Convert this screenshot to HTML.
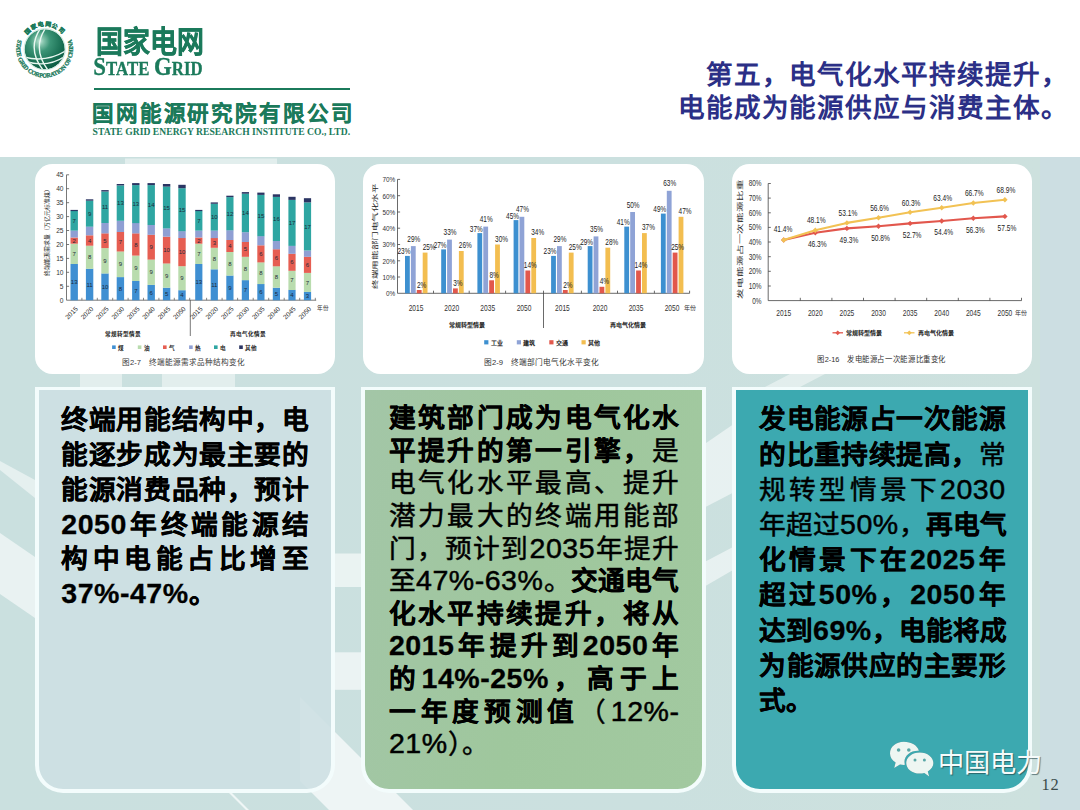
<!DOCTYPE html>
<html lang="zh-CN">
<head>
<meta charset="utf-8">
<title>第五，电气化水平持续提升</title>
<style>
html,body{margin:0;padding:0;}
body{width:1080px;height:810px;overflow:hidden;position:relative;background:#cbe0df;font-family:"Liberation Sans",sans-serif;}
.abs{position:absolute;}
#hdr{left:0;top:0;width:1080px;height:157px;background:#fff;}
#bg{left:0;top:157px;width:1080px;height:653px;background:linear-gradient(90deg,#cae0df 0%,#cbe0df 60%,#cde1de 96.25%,#ccdee2 96.35%,#ccdee2 100%);}
.cp{background:#fff;border-radius:17.5px;top:164.2px;height:209.6px;}
.tp{top:387px;height:406px;box-sizing:border-box;border:4px solid #f3fcfc;border-top-width:3.5px;border-radius:0 0 28px 28px;}
.tx{font-weight:bold;color:#000;white-space:nowrap;-webkit-text-stroke:0.3px #000;}
.tx div{text-align:justify;text-align-last:justify;text-justify:inter-character;}
.tx div.l{text-align:left;text-align-last:left;}
.tx .d{font-size:1.07em;letter-spacing:0.5px;line-height:0;}
.tx .n{font-weight:normal;-webkit-text-stroke:0.5px #000;color:#000;}
#title{right:11.5px;top:59.2px;width:420px;text-align:right;font-size:26.6px;letter-spacing:0.9px;line-height:33px;font-weight:bold;color:#2b2f86;white-space:nowrap;}
.g{color:#1b7a5b;}
</style>
</head>
<body>
<div id="hdr" class="abs"></div>
<div id="bg" class="abs"></div>

<svg class="abs" style="left:0;top:0" width="1080" height="810" viewBox="0 0 1080 810">
<g fill="#ffffff">
<polygon points="0,461 35,480 35,498 0,470" opacity="0.5"/>
<polygon points="0,533 35,557 35,618 0,594" opacity="0.58"/>
<rect x="335" y="553.5" width="27" height="33.5" opacity="0.6"/>
<rect x="335" y="652.3" width="27" height="37.5" opacity="0.62"/>
<polygon points="300,697 420,817 336,817 300,781" opacity="0.68"/>
<polygon points="705,443.7 733,424.6 733,492.8 705,507.3" opacity="0.55"/>
<polygon points="705,561.7 733,547.1 733,570.1 705,586.2" opacity="0.55"/>
<polygon points="226,790 229,790 251,812 248,812" opacity="0.7"/>
<rect x="125" y="158.5" width="152" height="5.6" opacity="0.45"/>
<rect x="80" y="374" width="42" height="13" opacity="0.45"/>
<rect x="162" y="374" width="73" height="13" opacity="0.45"/>
<polygon points="765,387 790,374 825,374 800,387" opacity="0.45"/>
</g>
</svg>

<svg class="abs" style="left:10px;top:10px" width="80" height="80" viewBox="10 10 80 80" font-family="Liberation Serif, serif">
<defs>
<radialGradient id="gl" cx="0.38" cy="0.3" r="0.8"><stop offset="0" stop-color="#c2e5d8"/><stop offset="0.12" stop-color="#86c5ad"/><stop offset="0.32" stop-color="#3c9577"/><stop offset="0.75" stop-color="#14694e"/><stop offset="1" stop-color="#0a5640"/></radialGradient>
<clipPath id="gc"><circle cx="44.7" cy="49.2" r="20"/></clipPath>
<path id="ringb" d="M 18.1 39.5 A 28.3 28.3 0 1 0 71.3 39.5"/>
<path id="ringt" d="M 26.9 34.8 A 22.9 22.9 0 0 1 62.5 34.8"/>
</defs>
<circle cx="44.7" cy="49.2" r="20" fill="url(#gl)"/>
<circle cx="44.7" cy="49.2" r="20.6" fill="none" stroke="#bfe3d6" stroke-width="0.8"/>
<g clip-path="url(#gc)" fill="none" stroke="#e9f7f1" stroke-linecap="round">
<path d="M24 57 Q 46 63 65.5 51" stroke-width="1.4"/>
<path d="M25.5 61.5 Q 48 68 64.5 56.5" stroke-width="1.4"/>
<path d="M40 29 Q 27 49 43 70" stroke-width="1.4"/>
<path d="M45 29 Q 32.5 49 47.5 69.5" stroke-width="1.4"/>
</g>
<text font-size="6.1" font-weight="bold" fill="#1b7a5b" stroke="#1b7a5b" stroke-width="0.3"><textPath href="#ringb" startOffset="0" textLength="108.5" lengthAdjust="spacing">STATE GRID CORPORATION OF CHINA</textPath></text>
<text font-size="6" font-weight="bold" fill="#1b7a5b" stroke="#1b7a5b" stroke-width="0.25" font-family="Liberation Sans, sans-serif"><textPath href="#ringt" startOffset="0" textLength="39.8" lengthAdjust="spacing">国家电网公司</textPath></text>
</svg>
<div class="abs g" style="left:95.9px;top:20.6px;font-size:26.9px;line-height:38px;font-weight:bold;white-space:nowrap;-webkit-text-stroke:0.45px #1b7a5b;transform:scale(1,1.11);transform-origin:0 0;">国家电网</div>
<div class="abs g" style="left:93.2px;top:52.8px;font-family:'Liberation Serif',serif;font-weight:bold;font-size:16.8px;line-height:24px;white-space:nowrap;letter-spacing:0.1px;-webkit-text-stroke:0.3px #1b7a5b;transform:scale(1,1.14);transform-origin:0 0;"><span style="font-size:22.8px">S</span>TATE <span style="font-size:22.8px">G</span>RID</div>
<div class="abs" style="left:93.5px;top:88px;width:256.5px;height:1.6px;background:#1b7a5b;"></div>
<div class="abs g" style="left:92px;top:98.4px;font-size:21.5px;line-height:32px;font-weight:bold;white-space:nowrap;letter-spacing:1.86px;-webkit-text-stroke:0.25px #1b7a5b;">国网能源研究院有限公司</div>
<div class="abs g" style="left:92.6px;top:126.2px;font-family:'Liberation Serif',serif;font-weight:bold;font-size:9.6px;line-height:12px;white-space:nowrap;letter-spacing:0.03px;">STATE GRID ENERGY RESEARCH INSTITUTE CO., LTD.</div>

<div class="abs cp" style="left:35.3px;width:300px;"></div>
<div class="abs cp" style="left:363.3px;width:340.8px;"></div>
<div class="abs cp" style="left:731.9px;width:299.7px;"></div>
<svg class="abs" style="left:0;top:0" width="1080" height="810" viewBox="0 0 1080 810" font-family="Liberation Sans, sans-serif">
<g id="chart1"><g stroke="#555" stroke-width="0.8" fill="none">
<path d="M66.5 174.8 V300.2 H316.2"/>
<path d="M66.5 286.3 h2.6"/>
<path d="M66.5 272.3 h2.6"/>
<path d="M66.5 258.4 h2.6"/>
<path d="M66.5 244.5 h2.6"/>
<path d="M66.5 230.5 h2.6"/>
<path d="M66.5 216.6 h2.6"/>
<path d="M66.5 202.7 h2.6"/>
<path d="M66.5 188.7 h2.6"/>
<path d="M66.5 174.8 h2.6"/>
<path d="M190.3 300 V336"/>
</g>
<g font-size="6.6" fill="#333" text-anchor="end">
<text x="63.5" y="302.5">0</text>
<text x="63.5" y="288.6">5</text>
<text x="63.5" y="274.6">10</text>
<text x="63.5" y="260.7">15</text>
<text x="63.5" y="246.8">20</text>
<text x="63.5" y="232.8">25</text>
<text x="63.5" y="218.9">30</text>
<text x="63.5" y="205">35</text>
<text x="63.5" y="191">40</text>
<text x="63.5" y="177.1">45</text>
</g>
<rect x="70.5" y="264" width="7.4" height="36.3" fill="#3f8fd2"/>
<text x="74.2" y="284.2" font-size="6" fill="#1d2a3a" text-anchor="middle">13</text>
<rect x="70.5" y="243.6" width="7.4" height="20.4" fill="#b9dcae"/>
<text x="74.2" y="255.9" font-size="6" fill="#1d2a3a" text-anchor="middle">7</text>
<rect x="70.5" y="237.5" width="7.4" height="6.2" fill="#e65e52"/>
<text x="74.2" y="242.7" font-size="6" fill="#1d2a3a" text-anchor="middle">2</text>
<rect x="70.5" y="230.5" width="7.4" height="7" fill="#8f9fd3"/>
<rect x="70.5" y="211" width="7.4" height="19.6" fill="#2ea6a2"/>
<text x="74.2" y="222.9" font-size="6" fill="#1d2a3a" text-anchor="middle">7</text>
<rect x="70.5" y="209.9" width="7.4" height="1.2" fill="#2b3563"/>
<path d="M81.9 300.2 v-2.4" stroke="#555" stroke-width="0.7"/>
<text transform="translate(78.4 309.4) rotate(-45)" font-size="6.6" fill="#333" text-anchor="end">2015</text>
<rect x="85.9" y="268.7" width="7.4" height="31.5" fill="#3f8fd2"/>
<text x="89.6" y="286.6" font-size="6" fill="#1d2a3a" text-anchor="middle">11</text>
<rect x="85.9" y="245.6" width="7.4" height="23.2" fill="#b9dcae"/>
<text x="89.6" y="259.2" font-size="6" fill="#1d2a3a" text-anchor="middle">8</text>
<rect x="85.9" y="235.3" width="7.4" height="10.4" fill="#e65e52"/>
<text x="89.6" y="242.5" font-size="6" fill="#1d2a3a" text-anchor="middle">4</text>
<rect x="85.9" y="226.6" width="7.4" height="8.7" fill="#8f9fd3"/>
<rect x="85.9" y="200.7" width="7.4" height="26" fill="#2ea6a2"/>
<text x="89.6" y="215.8" font-size="6" fill="#1d2a3a" text-anchor="middle">9</text>
<rect x="85.9" y="199.3" width="7.4" height="1.4" fill="#2b3563"/>
<path d="M97.3 300.2 v-2.4" stroke="#555" stroke-width="0.7"/>
<text transform="translate(93.8 309.4) rotate(-45)" font-size="6.6" fill="#333" text-anchor="end">2020</text>
<rect x="101.3" y="273.4" width="7.4" height="26.8" fill="#3f8fd2"/>
<text x="105" y="288.9" font-size="6" fill="#1d2a3a" text-anchor="middle">10</text>
<rect x="101.3" y="248.1" width="7.4" height="25.4" fill="#b9dcae"/>
<text x="105" y="262.9" font-size="6" fill="#1d2a3a" text-anchor="middle">9</text>
<rect x="101.3" y="233.3" width="7.4" height="14.8" fill="#e65e52"/>
<text x="105" y="242.8" font-size="6" fill="#1d2a3a" text-anchor="middle">5</text>
<rect x="101.3" y="223" width="7.4" height="10.4" fill="#8f9fd3"/>
<rect x="101.3" y="191.5" width="7.4" height="31.5" fill="#2ea6a2"/>
<text x="105" y="209.4" font-size="6" fill="#1d2a3a" text-anchor="middle">11</text>
<rect x="101.3" y="190.1" width="7.4" height="1.4" fill="#2b3563"/>
<path d="M112.7 300.2 v-2.4" stroke="#555" stroke-width="0.7"/>
<text transform="translate(109.2 309.4) rotate(-45)" font-size="6.6" fill="#333" text-anchor="end">2025</text>
<rect x="116.7" y="277.1" width="7.4" height="23.2" fill="#3f8fd2"/>
<text x="120.4" y="290.7" font-size="6" fill="#1d2a3a" text-anchor="middle">8</text>
<rect x="116.7" y="251.4" width="7.4" height="25.7" fill="#b9dcae"/>
<text x="120.4" y="266.3" font-size="6" fill="#1d2a3a" text-anchor="middle">9</text>
<rect x="116.7" y="231.9" width="7.4" height="19.6" fill="#e65e52"/>
<text x="120.4" y="243.8" font-size="6" fill="#1d2a3a" text-anchor="middle">7</text>
<rect x="116.7" y="220.8" width="7.4" height="11.2" fill="#8f9fd3"/>
<rect x="116.7" y="185.4" width="7.4" height="35.4" fill="#2ea6a2"/>
<text x="120.4" y="205.2" font-size="6" fill="#1d2a3a" text-anchor="middle">13</text>
<rect x="116.7" y="184" width="7.4" height="1.4" fill="#2b3563"/>
<path d="M128.1 300.2 v-2.4" stroke="#555" stroke-width="0.7"/>
<text transform="translate(124.6 309.4) rotate(-45)" font-size="6.6" fill="#333" text-anchor="end">2030</text>
<rect x="132.1" y="281" width="7.4" height="19.3" fill="#3f8fd2"/>
<text x="135.8" y="292.7" font-size="6" fill="#1d2a3a" text-anchor="middle">7</text>
<rect x="132.1" y="255.6" width="7.4" height="25.4" fill="#b9dcae"/>
<text x="135.8" y="270.4" font-size="6" fill="#1d2a3a" text-anchor="middle">9</text>
<rect x="132.1" y="233.3" width="7.4" height="22.3" fill="#e65e52"/>
<text x="135.8" y="246.6" font-size="6" fill="#1d2a3a" text-anchor="middle">8</text>
<rect x="132.1" y="223" width="7.4" height="10.4" fill="#8f9fd3"/>
<rect x="132.1" y="185.1" width="7.4" height="38" fill="#2ea6a2"/>
<text x="135.8" y="206.1" font-size="6" fill="#1d2a3a" text-anchor="middle">13</text>
<rect x="132.1" y="183.1" width="7.4" height="2" fill="#2b3563"/>
<path d="M143.5 300.2 v-2.4" stroke="#555" stroke-width="0.7"/>
<text transform="translate(140 309.4) rotate(-45)" font-size="6.6" fill="#333" text-anchor="end">2035</text>
<rect x="147.5" y="284.9" width="7.4" height="15.4" fill="#3f8fd2"/>
<text x="151.2" y="294.6" font-size="6" fill="#1d2a3a" text-anchor="middle">6</text>
<rect x="147.5" y="259.5" width="7.4" height="25.4" fill="#b9dcae"/>
<text x="151.2" y="274.3" font-size="6" fill="#1d2a3a" text-anchor="middle">9</text>
<rect x="147.5" y="234.7" width="7.4" height="24.9" fill="#e65e52"/>
<text x="151.2" y="249.2" font-size="6" fill="#1d2a3a" text-anchor="middle">9</text>
<rect x="147.5" y="225" width="7.4" height="9.8" fill="#8f9fd3"/>
<rect x="147.5" y="185.1" width="7.4" height="39.9" fill="#2ea6a2"/>
<text x="151.2" y="207.1" font-size="6" fill="#1d2a3a" text-anchor="middle">14</text>
<rect x="147.5" y="183.1" width="7.4" height="2" fill="#2b3563"/>
<path d="M158.9 300.2 v-2.4" stroke="#555" stroke-width="0.7"/>
<text transform="translate(155.4 309.4) rotate(-45)" font-size="6.6" fill="#333" text-anchor="end">2040</text>
<rect x="162.9" y="287.7" width="7.4" height="12.6" fill="#3f8fd2"/>
<text x="166.6" y="296" font-size="6" fill="#1d2a3a" text-anchor="middle">5</text>
<rect x="162.9" y="263.4" width="7.4" height="24.3" fill="#b9dcae"/>
<text x="166.6" y="277.6" font-size="6" fill="#1d2a3a" text-anchor="middle">9</text>
<rect x="162.9" y="236.7" width="7.4" height="26.8" fill="#e65e52"/>
<text x="166.6" y="252.1" font-size="6" fill="#1d2a3a" text-anchor="middle">10</text>
<rect x="162.9" y="228.3" width="7.4" height="8.4" fill="#8f9fd3"/>
<rect x="162.9" y="186.5" width="7.4" height="41.9" fill="#2ea6a2"/>
<text x="166.6" y="209.5" font-size="6" fill="#1d2a3a" text-anchor="middle">15</text>
<rect x="162.9" y="184" width="7.4" height="2.6" fill="#2b3563"/>
<path d="M174.3 300.2 v-2.4" stroke="#555" stroke-width="0.7"/>
<text transform="translate(170.8 309.4) rotate(-45)" font-size="6.6" fill="#333" text-anchor="end">2045</text>
<rect x="178.3" y="290.2" width="7.4" height="10.1" fill="#3f8fd2"/>
<text x="182" y="297.3" font-size="6" fill="#1d2a3a" text-anchor="middle">4</text>
<rect x="178.3" y="266.2" width="7.4" height="24" fill="#b9dcae"/>
<text x="182" y="280.3" font-size="6" fill="#1d2a3a" text-anchor="middle">9</text>
<rect x="178.3" y="238" width="7.4" height="28.2" fill="#e65e52"/>
<text x="182" y="254.2" font-size="6" fill="#1d2a3a" text-anchor="middle">10</text>
<rect x="178.3" y="231.1" width="7.4" height="7" fill="#8f9fd3"/>
<rect x="178.3" y="188.2" width="7.4" height="43" fill="#2ea6a2"/>
<text x="182" y="211.7" font-size="6" fill="#1d2a3a" text-anchor="middle">15</text>
<rect x="178.3" y="184.8" width="7.4" height="3.4" fill="#2b3563"/>
<path d="M189.7 300.2 v-2.4" stroke="#555" stroke-width="0.7"/>
<text transform="translate(186.2 309.4) rotate(-45)" font-size="6.6" fill="#333" text-anchor="end">2050</text>
<rect x="195.2" y="264" width="7.2" height="36.3" fill="#3f8fd2"/>
<text x="198.8" y="284.2" font-size="6" fill="#1d2a3a" text-anchor="middle">13</text>
<rect x="195.2" y="243.6" width="7.2" height="20.4" fill="#b9dcae"/>
<text x="198.8" y="255.9" font-size="6" fill="#1d2a3a" text-anchor="middle">7</text>
<rect x="195.2" y="237.5" width="7.2" height="6.2" fill="#e65e52"/>
<text x="198.8" y="242.7" font-size="6" fill="#1d2a3a" text-anchor="middle">2</text>
<rect x="195.2" y="230.5" width="7.2" height="7" fill="#8f9fd3"/>
<rect x="195.2" y="211" width="7.2" height="19.6" fill="#2ea6a2"/>
<text x="198.8" y="222.9" font-size="6" fill="#1d2a3a" text-anchor="middle">7</text>
<rect x="195.2" y="209.9" width="7.2" height="1.2" fill="#2b3563"/>
<path d="M206.6 300.2 v-2.4" stroke="#555" stroke-width="0.7"/>
<text transform="translate(203 309.4) rotate(-45)" font-size="6.6" fill="#333" text-anchor="end">2015</text>
<rect x="210.7" y="269.3" width="7.2" height="31" fill="#3f8fd2"/>
<text x="214.3" y="286.8" font-size="6" fill="#1d2a3a" text-anchor="middle">11</text>
<rect x="210.7" y="247.8" width="7.2" height="21.5" fill="#b9dcae"/>
<text x="214.3" y="260.6" font-size="6" fill="#1d2a3a" text-anchor="middle">8</text>
<rect x="210.7" y="238" width="7.2" height="9.8" fill="#e65e52"/>
<text x="214.3" y="245" font-size="6" fill="#1d2a3a" text-anchor="middle">3</text>
<rect x="210.7" y="230.5" width="7.2" height="7.6" fill="#8f9fd3"/>
<rect x="210.7" y="203.8" width="7.2" height="26.8" fill="#2ea6a2"/>
<text x="214.3" y="219.2" font-size="6" fill="#1d2a3a" text-anchor="middle">10</text>
<rect x="210.7" y="202.4" width="7.2" height="1.4" fill="#2b3563"/>
<path d="M222.1 300.2 v-2.4" stroke="#555" stroke-width="0.7"/>
<text transform="translate(218.5 309.4) rotate(-45)" font-size="6.6" fill="#333" text-anchor="end">2020</text>
<rect x="226.3" y="275.5" width="7.2" height="24.7" fill="#3f8fd2"/>
<text x="229.9" y="290" font-size="6" fill="#1d2a3a" text-anchor="middle">9</text>
<rect x="226.3" y="252" width="7.2" height="23.6" fill="#b9dcae"/>
<text x="229.9" y="265.9" font-size="6" fill="#1d2a3a" text-anchor="middle">8</text>
<rect x="226.3" y="240" width="7.2" height="12" fill="#e65e52"/>
<text x="229.9" y="248.1" font-size="6" fill="#1d2a3a" text-anchor="middle">4</text>
<rect x="226.3" y="230.2" width="7.2" height="9.8" fill="#8f9fd3"/>
<rect x="226.3" y="197.1" width="7.2" height="33.2" fill="#2ea6a2"/>
<text x="229.9" y="215.8" font-size="6" fill="#1d2a3a" text-anchor="middle">12</text>
<rect x="226.3" y="195.7" width="7.2" height="1.4" fill="#2b3563"/>
<path d="M237.6 300.2 v-2.4" stroke="#555" stroke-width="0.7"/>
<text transform="translate(234.1 309.4) rotate(-45)" font-size="6.6" fill="#333" text-anchor="end">2025</text>
<rect x="241.8" y="280.1" width="7.2" height="20.1" fill="#3f8fd2"/>
<text x="245.4" y="292.3" font-size="6" fill="#1d2a3a" text-anchor="middle">7</text>
<rect x="241.8" y="256.7" width="7.2" height="23.5" fill="#b9dcae"/>
<text x="245.4" y="270.5" font-size="6" fill="#1d2a3a" text-anchor="middle">8</text>
<rect x="241.8" y="242" width="7.2" height="14.8" fill="#e65e52"/>
<text x="245.4" y="251.4" font-size="6" fill="#1d2a3a" text-anchor="middle">5</text>
<rect x="241.8" y="232.2" width="7.2" height="9.8" fill="#8f9fd3"/>
<rect x="241.8" y="193.6" width="7.2" height="38.6" fill="#2ea6a2"/>
<text x="245.4" y="215" font-size="6" fill="#1d2a3a" text-anchor="middle">14</text>
<rect x="241.8" y="192.1" width="7.2" height="1.6" fill="#2b3563"/>
<path d="M253.2 300.2 v-2.4" stroke="#555" stroke-width="0.7"/>
<text transform="translate(249.6 309.4) rotate(-45)" font-size="6.6" fill="#333" text-anchor="end">2030</text>
<rect x="257.3" y="284" width="7.2" height="16.2" fill="#3f8fd2"/>
<text x="260.9" y="294.2" font-size="6" fill="#1d2a3a" text-anchor="middle">6</text>
<rect x="257.3" y="262.3" width="7.2" height="21.8" fill="#b9dcae"/>
<text x="260.9" y="275.3" font-size="6" fill="#1d2a3a" text-anchor="middle">8</text>
<rect x="257.3" y="245.3" width="7.2" height="17.1" fill="#e65e52"/>
<text x="260.9" y="255.9" font-size="6" fill="#1d2a3a" text-anchor="middle">6</text>
<rect x="257.3" y="236.1" width="7.2" height="9.2" fill="#8f9fd3"/>
<rect x="257.3" y="194.9" width="7.2" height="41.3" fill="#2ea6a2"/>
<text x="260.9" y="217.6" font-size="6" fill="#1d2a3a" text-anchor="middle">15</text>
<rect x="257.3" y="192.6" width="7.2" height="2.3" fill="#2b3563"/>
<path d="M268.7 300.2 v-2.4" stroke="#555" stroke-width="0.7"/>
<text transform="translate(265.1 309.4) rotate(-45)" font-size="6.6" fill="#333" text-anchor="end">2035</text>
<rect x="272.8" y="287.7" width="7.2" height="12.6" fill="#3f8fd2"/>
<text x="276.4" y="296" font-size="6" fill="#1d2a3a" text-anchor="middle">5</text>
<rect x="272.8" y="266.2" width="7.2" height="21.5" fill="#b9dcae"/>
<text x="276.4" y="279" font-size="6" fill="#1d2a3a" text-anchor="middle">8</text>
<rect x="272.8" y="249.2" width="7.2" height="17.1" fill="#e65e52"/>
<text x="276.4" y="259.8" font-size="6" fill="#1d2a3a" text-anchor="middle">6</text>
<rect x="272.8" y="241" width="7.2" height="8.3" fill="#8f9fd3"/>
<rect x="272.8" y="196.8" width="7.2" height="44.2" fill="#2ea6a2"/>
<text x="276.4" y="221" font-size="6" fill="#1d2a3a" text-anchor="middle">16</text>
<rect x="272.8" y="194.3" width="7.2" height="2.6" fill="#2b3563"/>
<path d="M284.2 300.2 v-2.4" stroke="#555" stroke-width="0.7"/>
<text transform="translate(280.6 309.4) rotate(-45)" font-size="6.6" fill="#333" text-anchor="end">2040</text>
<rect x="288.4" y="289.9" width="7.2" height="10.4" fill="#3f8fd2"/>
<text x="292" y="297.1" font-size="6" fill="#1d2a3a" text-anchor="middle">4</text>
<rect x="288.4" y="270.7" width="7.2" height="19.3" fill="#b9dcae"/>
<text x="292" y="282.4" font-size="6" fill="#1d2a3a" text-anchor="middle">7</text>
<rect x="288.4" y="253.7" width="7.2" height="17.1" fill="#e65e52"/>
<text x="292" y="264.3" font-size="6" fill="#1d2a3a" text-anchor="middle">6</text>
<rect x="288.4" y="245.9" width="7.2" height="7.9" fill="#8f9fd3"/>
<rect x="288.4" y="199.9" width="7.2" height="46" fill="#2ea6a2"/>
<text x="292" y="225" font-size="6" fill="#1d2a3a" text-anchor="middle">17</text>
<rect x="288.4" y="196.8" width="7.2" height="3.1" fill="#2b3563"/>
<path d="M299.7 300.2 v-2.4" stroke="#555" stroke-width="0.7"/>
<text transform="translate(296.2 309.4) rotate(-45)" font-size="6.6" fill="#333" text-anchor="end">2045</text>
<rect x="303.9" y="291.8" width="7.2" height="8.4" fill="#3f8fd2"/>
<text x="307.5" y="298.1" font-size="6" fill="#1d2a3a" text-anchor="middle">3</text>
<rect x="303.9" y="272.9" width="7.2" height="19" fill="#b9dcae"/>
<text x="307.5" y="284.5" font-size="6" fill="#1d2a3a" text-anchor="middle">7</text>
<rect x="303.9" y="256.7" width="7.2" height="16.2" fill="#e65e52"/>
<text x="307.5" y="266.9" font-size="6" fill="#1d2a3a" text-anchor="middle">6</text>
<rect x="303.9" y="250.5" width="7.2" height="6.3" fill="#8f9fd3"/>
<rect x="303.9" y="202.4" width="7.2" height="48.1" fill="#2ea6a2"/>
<text x="307.5" y="228.5" font-size="6" fill="#1d2a3a" text-anchor="middle">17</text>
<rect x="303.9" y="198.2" width="7.2" height="4.2" fill="#2b3563"/>
<path d="M315.3 300.2 v-2.4" stroke="#555" stroke-width="0.7"/>
<text transform="translate(311.7 309.4) rotate(-45)" font-size="6.6" fill="#333" text-anchor="end">2050</text>
<text x="317" y="310" font-size="5.6" fill="#333">年份</text>
<text transform="translate(49.3 231) rotate(-90)" font-size="5.9" fill="#222" text-anchor="middle">终端能源需求量（万亿元标准煤）</text>
<g font-size="5.6" fill="#222" text-anchor="middle" font-weight="bold"><text x="123" y="336">常规转型情景</text><text x="248" y="336">再电气化情景</text></g>
<rect x="112.1" y="345.4" width="3.6" height="3.6" fill="#3f8fd2"/>
<text x="117.9" y="349.6" font-size="5.6" fill="#222" font-weight="bold">煤</text>
<rect x="137.8" y="345.4" width="3.6" height="3.6" fill="#b9dcae"/>
<text x="143.6" y="349.6" font-size="5.6" fill="#222" font-weight="bold">油</text>
<rect x="163" y="345.4" width="3.6" height="3.6" fill="#e65e52"/>
<text x="168.8" y="349.6" font-size="5.6" fill="#222" font-weight="bold">气</text>
<rect x="189.1" y="345.4" width="3.6" height="3.6" fill="#8f9fd3"/>
<text x="194.9" y="349.6" font-size="5.6" fill="#222" font-weight="bold">热</text>
<rect x="214" y="345.4" width="3.6" height="3.6" fill="#2ea6a2"/>
<text x="219.8" y="349.6" font-size="5.6" fill="#222" font-weight="bold">电</text>
<rect x="239.2" y="345.4" width="3.6" height="3.6" fill="#2b3563"/>
<text x="245" y="349.6" font-size="5.6" fill="#222" font-weight="bold">其他</text>
<text x="183.5" y="364.6" font-size="7.6" fill="#3a3a3a" text-anchor="middle">图2-7　终端能源需求品种结构变化</text></g>
<g id="chart2"><g stroke="#444" stroke-width="0.8" fill="none">
<path d="M397.5 179.4 V293.3 H689.6"/>
<path d="M397.5 277 h2.6"/>
<path d="M397.5 260.8 h2.6"/>
<path d="M397.5 244.5 h2.6"/>
<path d="M397.5 228.2 h2.6"/>
<path d="M397.5 212 h2.6"/>
<path d="M397.5 195.7 h2.6"/>
<path d="M397.5 179.4 h2.6"/>
<path d="M433.5 293.3 v-2.6"/>
<path d="M469.2 293.3 v-2.6"/>
<path d="M505.6 293.3 v-2.6"/>
<path d="M581.4 293.3 v-2.6"/>
<path d="M617.5 293.3 v-2.6"/>
<path d="M654.4 293.3 v-2.6"/>
<path d="M689.6 293.3 v-2.6"/>
<path d="M543.5 290.7 V328"/>
</g>
<text transform="translate(395.3 296.2) scale(0.79 1)" font-size="8.1" fill="#333" text-anchor="end">0%</text>
<text transform="translate(395.3 279.9) scale(0.79 1)" font-size="8.1" fill="#333" text-anchor="end">10%</text>
<text transform="translate(395.3 263.7) scale(0.79 1)" font-size="8.1" fill="#333" text-anchor="end">20%</text>
<text transform="translate(395.3 247.4) scale(0.79 1)" font-size="8.1" fill="#333" text-anchor="end">30%</text>
<text transform="translate(395.3 231.1) scale(0.79 1)" font-size="8.1" fill="#333" text-anchor="end">40%</text>
<text transform="translate(395.3 214.9) scale(0.79 1)" font-size="8.1" fill="#333" text-anchor="end">50%</text>
<text transform="translate(395.3 198.6) scale(0.79 1)" font-size="8.1" fill="#333" text-anchor="end">60%</text>
<text transform="translate(395.3 182.3) scale(0.79 1)" font-size="8.1" fill="#333" text-anchor="end">70%</text>
<rect x="405" y="255.9" width="4.8" height="37.4" fill="#3d90d0"/>
<rect x="410.9" y="246.1" width="4.8" height="47.2" fill="#8fa3d6"/>
<rect x="416.8" y="290" width="4.8" height="3.3" fill="#e2584c"/>
<rect x="422.7" y="252.6" width="4.8" height="40.7" fill="#f3be50"/>
<text transform="translate(403.9 254.4) scale(0.79 1)" font-size="8.2" fill="#222" text-anchor="middle">23%</text>
<text transform="translate(413.8 241.6) scale(0.79 1)" font-size="8.2" fill="#222" text-anchor="middle">29%</text>
<text transform="translate(421.7 287.5) scale(0.79 1)" font-size="8.2" fill="#222" text-anchor="middle">2%</text>
<text transform="translate(429.1 249.6) scale(0.79 1)" font-size="8.2" fill="#222" text-anchor="middle">25%</text>
<rect x="441.2" y="249.4" width="4.8" height="43.9" fill="#3d90d0"/>
<rect x="447.1" y="239.6" width="4.8" height="53.7" fill="#8fa3d6"/>
<rect x="453" y="288.4" width="4.8" height="4.9" fill="#e2584c"/>
<rect x="458.9" y="251" width="4.8" height="42.3" fill="#f3be50"/>
<text transform="translate(440.1 247.9) scale(0.79 1)" font-size="8.2" fill="#222" text-anchor="middle">27%</text>
<text transform="translate(450 235.1) scale(0.79 1)" font-size="8.2" fill="#222" text-anchor="middle">33%</text>
<text transform="translate(457.9 285.9) scale(0.79 1)" font-size="8.2" fill="#222" text-anchor="middle">3%</text>
<text transform="translate(465.3 248) scale(0.79 1)" font-size="8.2" fill="#222" text-anchor="middle">26%</text>
<rect x="477.4" y="233.1" width="4.8" height="60.2" fill="#3d90d0"/>
<rect x="483.3" y="226.6" width="4.8" height="66.7" fill="#8fa3d6"/>
<rect x="489.2" y="280.3" width="4.8" height="13" fill="#e2584c"/>
<rect x="495.1" y="244.5" width="4.8" height="48.8" fill="#f3be50"/>
<text transform="translate(476.3 231.6) scale(0.79 1)" font-size="8.2" fill="#222" text-anchor="middle">37%</text>
<text transform="translate(486.2 222.1) scale(0.79 1)" font-size="8.2" fill="#222" text-anchor="middle">41%</text>
<text transform="translate(494.1 277.8) scale(0.79 1)" font-size="8.2" fill="#222" text-anchor="middle">8%</text>
<text transform="translate(501.5 241.5) scale(0.79 1)" font-size="8.2" fill="#222" text-anchor="middle">30%</text>
<rect x="513.6" y="220.1" width="4.8" height="73.2" fill="#3d90d0"/>
<rect x="519.5" y="216.8" width="4.8" height="76.5" fill="#8fa3d6"/>
<rect x="525.4" y="270.5" width="4.8" height="22.8" fill="#e2584c"/>
<rect x="531.3" y="238" width="4.8" height="55.3" fill="#f3be50"/>
<text transform="translate(512.5 218.6) scale(0.79 1)" font-size="8.2" fill="#222" text-anchor="middle">45%</text>
<text transform="translate(522.4 212.3) scale(0.79 1)" font-size="8.2" fill="#222" text-anchor="middle">47%</text>
<text transform="translate(530.3 268) scale(0.79 1)" font-size="8.2" fill="#222" text-anchor="middle">14%</text>
<text transform="translate(537.7 235) scale(0.79 1)" font-size="8.2" fill="#222" text-anchor="middle">34%</text>
<rect x="551.1" y="255.9" width="4.8" height="37.4" fill="#3d90d0"/>
<rect x="557" y="246.1" width="4.8" height="47.2" fill="#8fa3d6"/>
<rect x="562.9" y="290" width="4.8" height="3.3" fill="#e2584c"/>
<rect x="568.8" y="252.6" width="4.8" height="40.7" fill="#f3be50"/>
<text transform="translate(550 254.4) scale(0.79 1)" font-size="8.2" fill="#222" text-anchor="middle">23%</text>
<text transform="translate(559.9 241.6) scale(0.79 1)" font-size="8.2" fill="#222" text-anchor="middle">29%</text>
<text transform="translate(567.8 287.5) scale(0.79 1)" font-size="8.2" fill="#222" text-anchor="middle">2%</text>
<text transform="translate(575.2 249.6) scale(0.79 1)" font-size="8.2" fill="#222" text-anchor="middle">25%</text>
<rect x="587.7" y="246.1" width="4.8" height="47.2" fill="#3d90d0"/>
<rect x="593.6" y="236.4" width="4.8" height="56.9" fill="#8fa3d6"/>
<rect x="599.5" y="286.8" width="4.8" height="6.5" fill="#e2584c"/>
<rect x="605.4" y="247.7" width="4.8" height="45.6" fill="#f3be50"/>
<text transform="translate(586.6 244.6) scale(0.79 1)" font-size="8.2" fill="#222" text-anchor="middle">29%</text>
<text transform="translate(596.5 231.9) scale(0.79 1)" font-size="8.2" fill="#222" text-anchor="middle">35%</text>
<text transform="translate(604.4 284.3) scale(0.79 1)" font-size="8.2" fill="#222" text-anchor="middle">4%</text>
<text transform="translate(611.8 244.7) scale(0.79 1)" font-size="8.2" fill="#222" text-anchor="middle">28%</text>
<rect x="624.3" y="226.6" width="4.8" height="66.7" fill="#3d90d0"/>
<rect x="630.2" y="212" width="4.8" height="81.3" fill="#8fa3d6"/>
<rect x="636.1" y="270.5" width="4.8" height="22.8" fill="#e2584c"/>
<rect x="642" y="233.1" width="4.8" height="60.2" fill="#f3be50"/>
<text transform="translate(623.2 225.1) scale(0.79 1)" font-size="8.2" fill="#222" text-anchor="middle">41%</text>
<text transform="translate(633.1 207.5) scale(0.79 1)" font-size="8.2" fill="#222" text-anchor="middle">50%</text>
<text transform="translate(641 268) scale(0.79 1)" font-size="8.2" fill="#222" text-anchor="middle">14%</text>
<text transform="translate(648.4 230.1) scale(0.79 1)" font-size="8.2" fill="#222" text-anchor="middle">37%</text>
<rect x="660.9" y="213.6" width="4.8" height="79.7" fill="#3d90d0"/>
<rect x="666.8" y="190.8" width="4.8" height="102.5" fill="#8fa3d6"/>
<rect x="672.7" y="252.6" width="4.8" height="40.7" fill="#e2584c"/>
<rect x="678.6" y="216.8" width="4.8" height="76.5" fill="#f3be50"/>
<text transform="translate(659.8 212.1) scale(0.79 1)" font-size="8.2" fill="#222" text-anchor="middle">49%</text>
<text transform="translate(669.7 186.3) scale(0.79 1)" font-size="8.2" fill="#222" text-anchor="middle">63%</text>
<text transform="translate(677.6 250.1) scale(0.79 1)" font-size="8.2" fill="#222" text-anchor="middle">25%</text>
<text transform="translate(685 213.8) scale(0.79 1)" font-size="8.2" fill="#222" text-anchor="middle">47%</text>
<text transform="translate(416 310.6) scale(0.8 1)" font-size="8.3" fill="#333" text-anchor="middle">2015</text>
<text transform="translate(451.7 310.6) scale(0.8 1)" font-size="8.3" fill="#333" text-anchor="middle">2020</text>
<text transform="translate(487.7 310.6) scale(0.8 1)" font-size="8.3" fill="#333" text-anchor="middle">2035</text>
<text transform="translate(524 310.6) scale(0.8 1)" font-size="8.3" fill="#333" text-anchor="middle">2050</text>
<text transform="translate(562.4 310.6) scale(0.8 1)" font-size="8.3" fill="#333" text-anchor="middle">2015</text>
<text transform="translate(600 310.6) scale(0.8 1)" font-size="8.3" fill="#333" text-anchor="middle">2020</text>
<text transform="translate(636 310.6) scale(0.8 1)" font-size="8.3" fill="#333" text-anchor="middle">2035</text>
<text transform="translate(672 310.6) scale(0.8 1)" font-size="8.3" fill="#333" text-anchor="middle">2050</text>
<text x="683.5" y="310" font-size="6" fill="#333">年份</text>
<text transform="translate(376.6 236.2) rotate(-90) scale(1.56 1)" font-size="6.1" fill="#1a1a1a" text-anchor="middle">终端用能部门电气化水平</text>
<g font-size="6" fill="#222" text-anchor="middle" font-weight="bold"><text x="466.5" y="327">常规转型情景</text><text x="627.5" y="327">再电气化情景</text></g>
<rect x="484.2" y="340.2" width="4.2" height="4.2" fill="#3d90d0"/>
<text x="490.5" y="344.8" font-size="6" fill="#222" font-weight="bold">工业</text>
<rect x="516.8" y="340.2" width="4.2" height="4.2" fill="#8fa3d6"/>
<text x="523.1" y="344.8" font-size="6" fill="#222" font-weight="bold">建筑</text>
<rect x="549.3" y="340.2" width="4.2" height="4.2" fill="#e2584c"/>
<text x="555.6" y="344.8" font-size="6" fill="#222" font-weight="bold">交通</text>
<rect x="581.5" y="340.2" width="4.2" height="4.2" fill="#f3be50"/>
<text x="587.8" y="344.8" font-size="6" fill="#222" font-weight="bold">其他</text>
<text x="541.5" y="364.6" font-size="7.7" fill="#333" text-anchor="middle">图2-9　终端部门电气化水平变化</text></g>
<g id="chart3"><g stroke="#444" stroke-width="0.8" fill="none">
<path d="M768.2 183.5 V300.6 H1021.5"/>
<path d="M768.2 286 h2.6"/>
<path d="M768.2 271.3 h2.6"/>
<path d="M768.2 256.7 h2.6"/>
<path d="M768.2 242 h2.6"/>
<path d="M768.2 227.4 h2.6"/>
<path d="M768.2 212.8 h2.6"/>
<path d="M768.2 198.1 h2.6"/>
<path d="M768.2 183.5 h2.6"/>
<path d="M800.3 300.6 v-2.8"/>
<path d="M831.9 300.6 v-2.8"/>
<path d="M863.5 300.6 v-2.8"/>
<path d="M895.1 300.6 v-2.8"/>
<path d="M926.7 300.6 v-2.8"/>
<path d="M958.3 300.6 v-2.8"/>
<path d="M989.9 300.6 v-2.8"/>
<path d="M1021.5 300.6 v-2.8"/>
</g>
<text transform="translate(761.6 303.5) scale(0.79 1)" font-size="8.2" fill="#333" text-anchor="end">0%</text>
<text transform="translate(761.6 288.9) scale(0.79 1)" font-size="8.2" fill="#333" text-anchor="end">10%</text>
<text transform="translate(761.6 274.2) scale(0.79 1)" font-size="8.2" fill="#333" text-anchor="end">20%</text>
<text transform="translate(761.6 259.6) scale(0.79 1)" font-size="8.2" fill="#333" text-anchor="end">30%</text>
<text transform="translate(761.6 244.9) scale(0.79 1)" font-size="8.2" fill="#333" text-anchor="end">40%</text>
<text transform="translate(761.6 230.3) scale(0.79 1)" font-size="8.2" fill="#333" text-anchor="end">50%</text>
<text transform="translate(761.6 215.7) scale(0.79 1)" font-size="8.2" fill="#333" text-anchor="end">60%</text>
<text transform="translate(761.6 201) scale(0.79 1)" font-size="8.2" fill="#333" text-anchor="end">70%</text>
<text transform="translate(761.6 186.4) scale(0.79 1)" font-size="8.2" fill="#333" text-anchor="end">80%</text>
<polyline points="783.7,240 815.3,232.8 846.9,228.4 878.5,226.2 910.1,223.4 941.7,221 973.3,218.2 1004.9,216.4" fill="none" stroke="#e2574d" stroke-width="2.1" stroke-linejoin="round"/>
<path d="M783.7 237.3 l2.7 2.7 l-2.7 2.7 l-2.7 -2.7z" fill="#e2574d"/>
<path d="M815.3 230.1 l2.7 2.7 l-2.7 2.7 l-2.7 -2.7z" fill="#e2574d"/>
<path d="M846.9 225.7 l2.7 2.7 l-2.7 2.7 l-2.7 -2.7z" fill="#e2574d"/>
<path d="M878.5 223.5 l2.7 2.7 l-2.7 2.7 l-2.7 -2.7z" fill="#e2574d"/>
<path d="M910.1 220.7 l2.7 2.7 l-2.7 2.7 l-2.7 -2.7z" fill="#e2574d"/>
<path d="M941.7 218.3 l2.7 2.7 l-2.7 2.7 l-2.7 -2.7z" fill="#e2574d"/>
<path d="M973.3 215.5 l2.7 2.7 l-2.7 2.7 l-2.7 -2.7z" fill="#e2574d"/>
<path d="M1004.9 213.7 l2.7 2.7 l-2.7 2.7 l-2.7 -2.7z" fill="#e2574d"/>
<polyline points="783.7,240 815.3,230.2 846.9,222.9 878.5,217.7 910.1,212.3 941.7,207.8 973.3,203 1004.9,199.7" fill="none" stroke="#f2c254" stroke-width="2.1" stroke-linejoin="round"/>
<path d="M783.7 237.3 l2.7 2.7 l-2.7 2.7 l-2.7 -2.7z" fill="#f2c254"/>
<path d="M815.3 227.5 l2.7 2.7 l-2.7 2.7 l-2.7 -2.7z" fill="#f2c254"/>
<path d="M846.9 220.2 l2.7 2.7 l-2.7 2.7 l-2.7 -2.7z" fill="#f2c254"/>
<path d="M878.5 215 l2.7 2.7 l-2.7 2.7 l-2.7 -2.7z" fill="#f2c254"/>
<path d="M910.1 209.6 l2.7 2.7 l-2.7 2.7 l-2.7 -2.7z" fill="#f2c254"/>
<path d="M941.7 205.1 l2.7 2.7 l-2.7 2.7 l-2.7 -2.7z" fill="#f2c254"/>
<path d="M973.3 200.3 l2.7 2.7 l-2.7 2.7 l-2.7 -2.7z" fill="#f2c254"/>
<path d="M1004.9 197 l2.7 2.7 l-2.7 2.7 l-2.7 -2.7z" fill="#f2c254"/>
<text transform="translate(783 231.8) scale(0.77 1)" font-size="8.6" fill="#222" text-anchor="middle">41.4%</text>
<text transform="translate(816.3 223.4) scale(0.77 1)" font-size="8.6" fill="#222" text-anchor="middle">48.1%</text>
<text transform="translate(817.3 247.2) scale(0.77 1)" font-size="8.6" fill="#222" text-anchor="middle">46.3%</text>
<text transform="translate(847.9 216.1) scale(0.77 1)" font-size="8.6" fill="#222" text-anchor="middle">53.1%</text>
<text transform="translate(848.9 242.8) scale(0.77 1)" font-size="8.6" fill="#222" text-anchor="middle">49.3%</text>
<text transform="translate(879.5 210.9) scale(0.77 1)" font-size="8.6" fill="#222" text-anchor="middle">56.6%</text>
<text transform="translate(880.5 240.6) scale(0.77 1)" font-size="8.6" fill="#222" text-anchor="middle">50.8%</text>
<text transform="translate(911.1 205.5) scale(0.77 1)" font-size="8.6" fill="#222" text-anchor="middle">60.3%</text>
<text transform="translate(912.1 237.8) scale(0.77 1)" font-size="8.6" fill="#222" text-anchor="middle">52.7%</text>
<text transform="translate(942.7 201) scale(0.77 1)" font-size="8.6" fill="#222" text-anchor="middle">63.4%</text>
<text transform="translate(943.7 235.4) scale(0.77 1)" font-size="8.6" fill="#222" text-anchor="middle">54.4%</text>
<text transform="translate(974.3 196.2) scale(0.77 1)" font-size="8.6" fill="#222" text-anchor="middle">66.7%</text>
<text transform="translate(975.3 232.6) scale(0.77 1)" font-size="8.6" fill="#222" text-anchor="middle">56.3%</text>
<text transform="translate(1005.9 192.9) scale(0.77 1)" font-size="8.6" fill="#222" text-anchor="middle">68.9%</text>
<text transform="translate(1006.9 230.8) scale(0.77 1)" font-size="8.6" fill="#222" text-anchor="middle">57.5%</text>
<text transform="translate(783.7 316) scale(0.8 1)" font-size="8.3" fill="#333" text-anchor="middle">2015</text>
<text transform="translate(815.3 316) scale(0.8 1)" font-size="8.3" fill="#333" text-anchor="middle">2020</text>
<text transform="translate(846.9 316) scale(0.8 1)" font-size="8.3" fill="#333" text-anchor="middle">2025</text>
<text transform="translate(878.5 316) scale(0.8 1)" font-size="8.3" fill="#333" text-anchor="middle">2030</text>
<text transform="translate(910.1 316) scale(0.8 1)" font-size="8.3" fill="#333" text-anchor="middle">2035</text>
<text transform="translate(941.7 316) scale(0.8 1)" font-size="8.3" fill="#333" text-anchor="middle">2040</text>
<text transform="translate(973.3 316) scale(0.8 1)" font-size="8.3" fill="#333" text-anchor="middle">2045</text>
<text transform="translate(1004.9 316) scale(0.8 1)" font-size="8.3" fill="#333" text-anchor="middle">2050</text>
<text x="1015" y="315.3" font-size="6" fill="#333">年份</text>
<text transform="translate(742.3 239) rotate(-90) scale(1.7 1)" font-size="6.1" fill="#1a1a1a" text-anchor="middle">发电能源占一次能源比重</text>
<path d="M832.5 332.8 h10.5" stroke="#e2574d" stroke-width="1.3"/><path d="M837.7 330.4 l2.4 2.4 l-2.4 2.4 l-2.4 -2.4z" fill="#e2574d"/>
<path d="M904 332.8 h10.5" stroke="#f2c254" stroke-width="1.3"/><path d="M909.3 330.4 l2.4 2.4 l-2.4 2.4 l-2.4 -2.4z" fill="#f2c254"/>
<g font-size="6" fill="#222" font-weight="bold"><text x="846" y="335.2">常规转型情景</text><text x="918" y="335.2">再电气化情景</text></g>
<text transform="translate(881.5 361.8) scale(0.91 1)" font-size="8.1" fill="#333" text-anchor="middle">图2-16　发电能源占一次能源比重变化</text></g>
</svg>
<div class="abs tp" style="left:34.8px;width:300.7px;background:rgba(205,224,227,0.9);"></div>
<div class="abs tp" style="left:360.8px;width:345.1px;background:linear-gradient(100deg,#a3c6a7 0%,#9fc79d 50%,#a2c9a0 100%);"></div>
<div class="abs tp" style="left:732.2px;width:299.7px;background:#3ca9b0;"></div>
<div class="abs tx" style="left:61.3px;top:403.3px;width:247.6px;font-size:26.7px;line-height:34.8px;">
<div>终端用能结构中，电</div>
<div>能逐步成为最主要的</div>
<div>能源消费品种，预计</div>
<div><span class="d">2050</span>年终端能源结</div>
<div>构中电能占比增至</div>
<div class="l"><span class="d">37%-47%</span>。</div>
</div>
<div class="abs tx" style="left:388.9px;top:402.2px;width:290.5px;font-size:26.7px;line-height:32.6px;">
<div>建筑部门成为电气化水</div>
<div>平提升的第一引擎，<span class="n">是</span></div>
<div><span class="n">电气化水平最高、提升</span></div>
<div><span class="n">潜力最大的终端用能部</span></div>
<div><span class="n">门，预计到<span class="d">2035</span>年提升</span></div>
<div><span class="n">至<span class="d">47%-63%</span>。</span>交通电气</div>
<div>化水平持续提升，将从</div>
<div><span class="d">2015</span>年提升到<span class="d">2050</span>年</div>
<div>的<span class="d">14%-25%</span>，高于上</div>
<div>一年度预测值<span class="n">（<span class="d">12%-</span></span></div>
<div class="l"><span class="n"><span class="d">21%</span>）。</span></div>
</div>
<div class="abs tx" style="left:759.1px;top:402.3px;width:246.5px;font-size:26.7px;line-height:35.2px;">
<div>发电能源占一次能源</div>
<div>的比重持续提高，<span class="n">常</span></div>
<div><span class="n">规转型情景下<span class="d">2030</span></span></div>
<div><span class="n">年超过<span class="d">50%</span>，</span>再电气</div>
<div>化情景下在<span class="d">2025</span>年</div>
<div>超过<span class="d">50%</span>，<span class="d">2050</span>年</div>
<div>达到<span class="d">69%</span>，电能将成</div>
<div>为能源供应的主要形</div>
<div class="l">式。</div>
</div>
<div id="title" class="abs">第五，电气化水平持续提升，<br>电能成为能源供应与消费主体。</div>
<svg class="abs" style="left:888px;top:740px;filter:drop-shadow(0.7px 0.7px 0.6px rgba(30,60,65,0.5))" width="48" height="40" viewBox="0 0 48 40">
<g fill="#eef6f2">
<path d="M15.8 1.8 C7.8 1.8 2 7 2 13.4 C2 17.2 4.2 20.4 7.6 22.4 L6.2 28 L12 24.4 C13.2 24.7 14.5 24.9 15.8 24.9 C16.2 24.9 16.6 24.9 17 24.8 C16.7 23.8 16.5 22.8 16.5 21.8 C16.5 15.6 22.6 10.8 30 10.8 C30.3 10.8 30.6 10.8 30.9 10.8 C29.6 5.6 23.4 1.8 15.8 1.8 Z"/>
<path d="M45.4 23 C45.4 17.2 39.6 12.4 31.8 12.4 C24 12.4 18.2 17.2 18.2 23 C18.2 28.8 24 33.6 31.8 33.6 C33.4 33.6 34.9 33.4 36.3 33 L41.2 36.4 L39.8 31.4 C43.2 29.4 45.4 26.4 45.4 23 Z"/>
</g>
<g fill="#5aa7a6"><circle cx="10.6" cy="10" r="1.8"/><circle cx="20.8" cy="10" r="1.8"/><circle cx="27" cy="20" r="1.5"/><circle cx="36.4" cy="20" r="1.5"/></g>
</svg>
<div class="abs" style="left:938px;top:745.3px;font-size:26.2px;line-height:36px;color:#f6fbfa;white-space:nowrap;font-weight:normal;text-shadow:0.8px 0.8px 0.8px rgba(30,60,65,0.6);">中国电力</div>
<div class="abs" style="left:1041.5px;top:774.5px;font-family:'Liberation Serif',serif;font-size:16.4px;line-height:20px;color:#3a4a4a;letter-spacing:0.9px;">12</div>

</body>
</html>
